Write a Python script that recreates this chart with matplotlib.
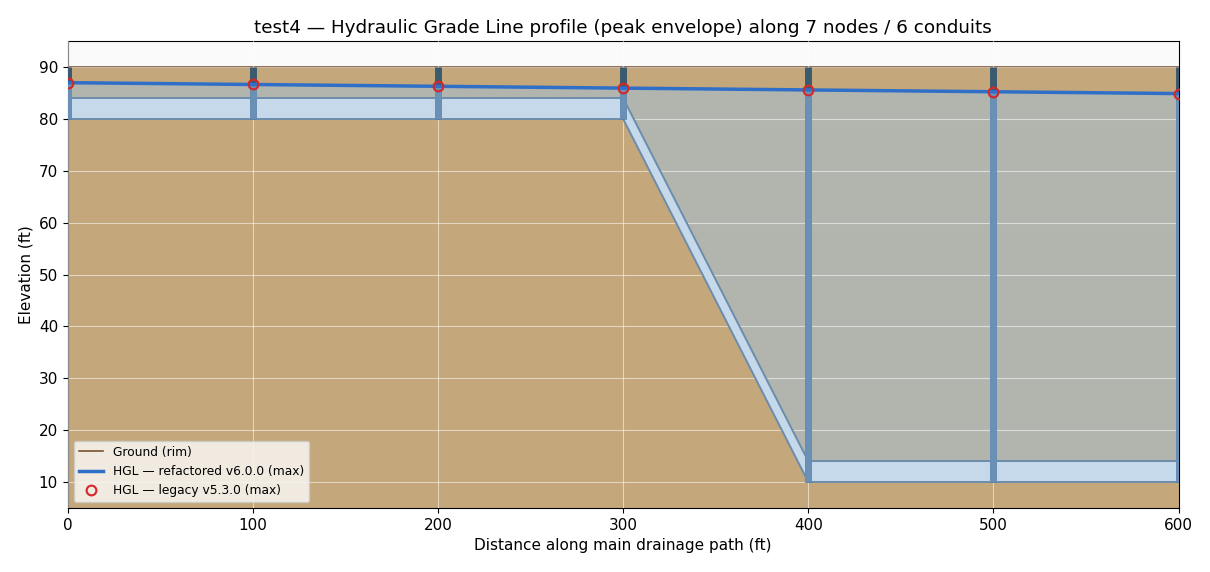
import numpy as np
import matplotlib.pyplot as plt
from matplotlib.patches import Polygon

# node data along the main path
node_x = [0, 100, 200, 300, 400, 500, 600]
rim = [90, 90, 90, 90, 90, 90, 90]
invert = [80, 80, 80, 80, 10, 10, 10]
hgl_new = [87.0, 86.65, 86.3, 85.95, 85.6, 85.25, 84.9]
hgl_old = [87.0, 86.65, 86.3, 85.95, 85.6, 85.25, 84.9]

# conduits: (from node, to node, upstream invert, downstream invert, diameter)
conduit_from = [0, 1, 2, 3, 4, 5]
conduit_to = [1, 2, 3, 4, 5, 6]
conduit_up_inv = [80, 80, 80, 80, 10, 10]
conduit_dn_inv = [80, 80, 80, 10, 10, 10]
conduit_diam = [4, 4, 4, 4, 4, 4]

TAN = "#c4a77a"
GREY = "#b1b5ae"
PIPE_FILL = "#c6d9ea"
PIPE_EDGE = "#6c8cab"
MH_WATER = "#6a90b5"
MH_DRY = "#3b5a70"

fig, ax = plt.subplots(figsize=(12.1, 5.72), dpi=100)
fig.subplots_adjust(left=0.056, right=0.974, top=0.928, bottom=0.112)
ax.set_facecolor("#fafafa")

ymin, ymax = 5, 95
x = np.array(node_x, dtype=float)

# soil
ax.fill_between(x, ymin, rim, color=TAN, lw=0, zorder=1)
ax.plot(x, rim, color="#7a5230", lw=1.2, zorder=2, label="Ground (rim)")

# crown profile for head above pipes
crown = np.array(invert, dtype=float) + 4
ax.fill_between(x, crown, hgl_new, color=GREY, lw=0, zorder=1.2)

for i in range(len(conduit_from)):
    x0 = node_x[conduit_from[i]]
    x1 = node_x[conduit_to[i]]
    a = conduit_up_inv[i]
    b = conduit_dn_inv[i]
    d = conduit_diam[i]
    poly = Polygon([(x0, a), (x1, b), (x1, b + d), (x0, a + d)], closed=True,
                   facecolor=PIPE_FILL, edgecolor=PIPE_EDGE, lw=1.4, zorder=3)
    ax.add_patch(poly)

# manholes
ax.vlines(x, invert, rim, color=MH_DRY, lw=5, zorder=4)
ax.vlines(x, invert, hgl_new, color=MH_WATER, lw=5, zorder=4.5)

ax.plot(x, hgl_new, color="#2f6fc8", lw=2.5, zorder=5,
        label="HGL \u2014 refactored v6.0.0 (max)")
ax.plot(x, hgl_old, "o", ms=7, mfc="none", mec="#d62728", mew=1.5, zorder=6,
        label="HGL \u2014 legacy v5.3.0 (max)")

ax.set_xlim(0, 600)
ax.set_ylim(ymin, ymax)
ax.set_yticks(np.arange(10, 91, 10))
ax.set_axisbelow(False)
ax.grid(True, color="white", alpha=0.55, lw=0.8)

ax.set_xlabel("Distance along main drainage path (ft)", fontsize=11)
ax.set_ylabel("Elevation (ft)", fontsize=11)
ax.set_title("test4 \u2014 Hydraulic Grade Line profile (peak envelope) along 7 nodes / 6 conduits",
             fontsize=13.2)
ax.tick_params(labelsize=11)

leg = ax.legend(loc="lower left", fontsize=8.8, framealpha=0.85)
leg.get_frame().set_facecolor("#f8f6f3")

fig.savefig("out.png", dpi=100)
